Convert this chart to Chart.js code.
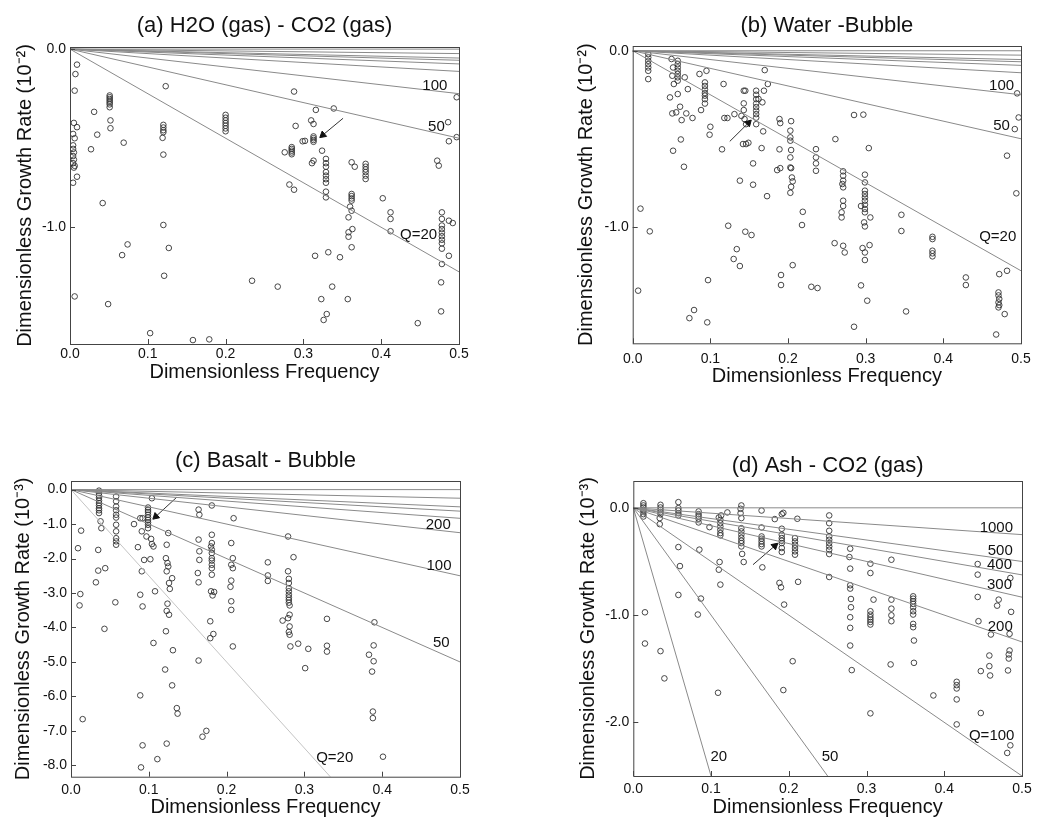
<!DOCTYPE html>
<html>
<head>
<meta charset="utf-8">
<script src="https://cdn.jsdelivr.net/npm/chart.js@4.4.1/dist/chart.umd.min.js"></script>
<style>
  body { margin: 0; background: #fff; }
  canvas { position: absolute; }
</style>
</head>
<body>
<canvas id="pa" width="520" height="410" style="left:0;top:0"></canvas>
<canvas id="pb" width="520" height="410" style="left:520px;top:0"></canvas>
<canvas id="pc" width="520" height="409" style="left:0;top:410px"></canvas>
<canvas id="pd" width="520" height="409" style="left:520px;top:410px"></canvas>
<script>
// tick values
const freqTicks = [0, 0.1, 0.2, 0.3, 0.4, 0.5];
const abRateTicks = [0, -1];
const cRateTicks = [0, -1, -2, -3, -4, -5, -6, -7, -8];
const dRateTicks = [0, -1, -2];

// Q reference lines: growth rate read at frequency 0.5 (plus Q = infinity at 0)
const abQEnds = [-1.25, -0.5, -0.25, -0.125, -0.083, -0.0625, -0.05, -0.025, 0];
const cdQEnds = [-12.5, -5.0, -2.5, -1.25, -0.833, -0.625, -0.5, -0.25, 0];

// measured points [frequency, growth rate]
const aPoints = [
  [0.009,-0.087],[0.007,-0.14],[0.006,-0.233],[0.005,-0.414],[0.009,-0.438],[0.004,-0.476],[0.006,-0.5],
  [0.004,-0.54],[0.004,-0.56],[0.005,-0.58],[0.004,-0.6],[0.005,-0.62],[0.004,-0.64],[0.006,-0.655],
  [0.005,-0.665],[0.009,-0.716],[0.004,-0.75],[0.006,-1.388],
  [0.031,-0.352],[0.035,-0.48],[0.027,-0.562],[0.042,-0.864],[0.049,-1.431],
  [0.051,-0.26],[0.051,-0.27],[0.051,-0.28],[0.051,-0.29],[0.051,-0.3],[0.051,-0.31],[0.051,-0.326],
  [0.052,-0.4],[0.052,-0.444],
  [0.069,-0.525],[0.074,-1.096],[0.067,-1.156],
  [0.12,-0.425],[0.12,-0.44],[0.12,-0.455],[0.12,-0.466],[0.119,-0.498],[0.12,-0.592],[0.12,-0.987],
  [0.123,-0.208],[0.127,-1.116],[0.121,-1.272],
  [0.103,-1.594],[0.158,-1.633],[0.179,-1.629],
  [0.2,-0.369],[0.2,-0.385],[0.2,-0.4],[0.2,-0.415],[0.2,-0.43],[0.2,-0.445],[0.2,-0.461],
  [0.234,-1.3],
  [0.288,-0.238],[0.316,-0.341],[0.339,-0.333],[0.29,-0.431],[0.31,-0.4],[0.313,-0.42],[0.299,-0.517],[0.302,-0.515],
  [0.313,-0.49],[0.313,-0.5],[0.313,-0.51],[0.313,-0.52],
  [0.285,-0.55],[0.285,-0.56],[0.285,-0.57],[0.285,-0.58],[0.285,-0.59],
  [0.276,-0.579],[0.324,-0.57],[0.313,-0.626],[0.311,-0.64],
  [0.329,-0.616],[0.329,-0.64],[0.329,-0.66],[0.329,-0.69],[0.329,-0.71],[0.329,-0.73],[0.329,-0.75],[0.329,-0.8],[0.329,-0.832],
  [0.362,-0.635],[0.366,-0.66],
  [0.38,-0.644],[0.38,-0.66],[0.38,-0.675],[0.38,-0.69],[0.38,-0.71],[0.38,-0.729],
  [0.282,-0.76],[0.288,-0.789],
  [0.362,-0.813],[0.362,-0.825],[0.362,-0.838],[0.362,-0.85],[0.36,-0.884],[0.362,-0.907],[0.358,-0.944],
  [0.363,-1.01],[0.358,-1.028],[0.358,-1.053],[0.362,-1.112],
  [0.402,-0.837],[0.412,-0.916],[0.412,-0.953],[0.412,-1.022],
  [0.315,-1.16],[0.332,-1.14],[0.347,-1.168],[0.267,-1.333],[0.337,-1.333],[0.323,-1.403],[0.357,-1.403],
  [0.33,-1.487],[0.326,-1.52],[0.447,-1.538],
  [0.472,-0.626],[0.474,-0.654],
  [0.478,-0.916],[0.478,-0.953],[0.478,-0.99],[0.478,-1.01],[0.478,-1.03],[0.478,-1.05],[0.478,-1.07],[0.478,-1.09],[0.478,-1.12],
  [0.487,-0.963],[0.492,-0.976],[0.487,-1.16],[0.478,-1.206],[0.477,-1.309],[0.477,-1.472],
  [0.487,-0.517],[0.486,-0.41],[0.497,-0.27],[0.497,-0.494]
];

const bPoints = [
  [0.02,-0.019],[0.02,-0.038],[0.02,-0.057],[0.02,-0.076],[0.02,-0.095],[0.02,-0.114],[0.02,-0.161],
  [0.05,-0.047],[0.052,-0.095],[0.051,-0.142],[0.053,-0.189],[0.048,-0.265],
  [0.058,-0.057],[0.058,-0.076],[0.058,-0.095],[0.058,-0.114],[0.058,-0.132],[0.058,-0.151],[0.058,-0.17],[0.058,-0.246],
  [0.067,-0.151],[0.071,-0.218],[0.061,-0.318],[0.051,-0.356],[0.056,-0.35],[0.063,-0.394],[0.069,-0.356],
  [0.077,-0.382],[0.062,-0.504],[0.052,-0.568],[0.066,-0.659],
  [0.086,-0.132],[0.095,-0.114],
  [0.093,-0.18],[0.093,-0.2],[0.093,-0.22],[0.093,-0.24],[0.093,-0.255],[0.093,-0.275],[0.093,-0.3],
  [0.088,-0.337],[0.1,-0.432],[0.099,-0.477],
  [0.117,-0.189],[0.118,-0.382],[0.122,-0.382],[0.115,-0.56],[0.131,-0.36],
  [0.143,-0.227],[0.145,-0.227],[0.143,-0.299],[0.143,-0.337],[0.14,-0.37],[0.144,-0.388],[0.146,-0.417],
  [0.142,-0.53],[0.146,-0.53],[0.149,-0.523],[0.155,-0.64],[0.138,-0.738],[0.155,-0.761],[0.145,-1.028],[0.153,-1.047],
  [0.159,-0.227],[0.159,-0.25],[0.159,-0.275],[0.159,-0.3],[0.159,-0.32],[0.159,-0.34],[0.159,-0.36],[0.159,-0.38],[0.159,-0.417],
  [0.162,-0.274],[0.167,-0.293],[0.169,-0.227],[0.174,-0.189],[0.17,-0.11],[0.168,-0.458],[0.166,-0.553],[0.173,-0.826],
  [0.123,-0.994],[0.134,-1.127],[0.13,-1.183],[0.138,-1.223],
  [0.097,-1.303],[0.079,-1.473],[0.073,-1.519],[0.096,-1.543],
  [0.01,-0.897],[0.022,-1.026],[0.007,-1.363],
  [0.189,-0.388],[0.19,-0.411],[0.204,-0.4],[0.203,-0.454],[0.203,-0.492],[0.203,-0.511],[0.204,-0.564],
  [0.203,-0.606],[0.203,-0.663],[0.204,-0.667],[0.205,-0.72],[0.206,-0.742],[0.204,-0.773],[0.203,-0.807],
  [0.189,-0.56],[0.186,-0.678],[0.19,-0.667],[0.219,-0.915],[0.218,-0.99],[0.206,-1.218],[0.191,-1.274],
  [0.191,-1.331],[0.23,-1.341],[0.238,-1.348],
  [0.236,-0.559],[0.236,-0.606],[0.236,-0.64],[0.236,-0.682],
  [0.285,-0.365],[0.297,-0.363],[0.261,-0.502],[0.304,-0.553],
  [0.271,-0.685],[0.271,-0.71],[0.271,-0.738],[0.27,-0.757],[0.271,-0.776],[0.271,-0.852],[0.271,-0.882],
  [0.269,-0.918],[0.269,-0.947],[0.26,-1.093],[0.271,-1.108],[0.273,-1.146],
  [0.299,-0.704],[0.299,-0.748],[0.299,-0.795],[0.299,-0.814],[0.299,-0.833],[0.299,-0.852],[0.299,-0.875],
  [0.299,-0.899],[0.299,-0.918],[0.298,-0.975],[0.299,-0.998],[0.294,-0.882],[0.306,-0.947],
  [0.296,-1.121],[0.299,-1.146],[0.299,-1.189],[0.305,-1.104],[0.294,-1.333],[0.302,-1.42],[0.285,-1.568],
  [0.346,-0.932],[0.346,-1.024],[0.352,-1.481],
  [0.386,-1.057],[0.386,-1.07],[0.386,-1.136],[0.386,-1.151],[0.386,-1.168],
  [0.429,-1.288],[0.429,-1.331],
  [0.472,-1.269],[0.482,-1.25],[0.471,-1.373],[0.471,-1.39],[0.472,-1.41],[0.471,-1.43],[0.472,-1.445],
  [0.471,-1.458],[0.479,-1.496],[0.468,-1.612],
  [0.495,-0.242],[0.497,-0.379],[0.492,-0.445],[0.482,-0.596],[0.494,-0.81]
];

const cPoints = [
  [0.036,-0.03],[0.036,-0.1],[0.036,-0.17],[0.036,-0.24],[0.036,-0.32],[0.036,-0.39],[0.036,-0.46],
  [0.036,-0.54],[0.036,-0.6],[0.036,-0.68],[0.038,-0.92],[0.039,-1.12],[0.035,-1.75],[0.035,-2.35],
  [0.032,-2.69],[0.044,-2.28],[0.043,-4.04],
  [0.013,-1.19],[0.009,-1.7],[0.012,-3.03],[0.011,-3.36],[0.015,-6.66],
  [0.058,-0.2],[0.058,-0.34],[0.058,-0.49],[0.058,-0.6],[0.058,-0.73],[0.058,-0.81],[0.058,-1.02],
  [0.058,-1.21],[0.058,-1.41],[0.058,-1.5],[0.058,-1.6],[0.057,-3.27],
  [0.099,-0.52],[0.099,-0.59],[0.099,-0.65],[0.099,-0.73],[0.099,-0.81],[0.099,-0.88],[0.099,-0.95],
  [0.099,-1.02],[0.099,-1.12],[0.097,-1.36],[0.089,-0.83],[0.092,-0.83],[0.081,-1.0],[0.086,-1.67],
  [0.104,-0.25],[0.091,-1.21],[0.103,-1.43],[0.104,-1.58],[0.106,-1.65],[0.094,-2.04],[0.102,-2.02],
  [0.091,-2.37],[0.089,-3.05],[0.092,-3.39],[0.106,-4.45],[0.108,-2.95],[0.089,-5.97],[0.092,-7.42],
  [0.09,-8.06],[0.111,-7.82],
  [0.125,-1.26],[0.123,-1.6],[0.122,-1.99],[0.124,-2.13],[0.125,-2.23],[0.123,-2.37],[0.13,-2.57],
  [0.126,-2.71],[0.127,-2.88],[0.124,-3.31],[0.123,-3.52],[0.126,-3.63],[0.122,-4.11],[0.131,-4.66],
  [0.121,-5.22],[0.13,-5.68],[0.136,-6.34],[0.137,-6.5],[0.123,-7.37],
  [0.164,-4.96],[0.169,-7.17],[0.174,-7.0],
  [0.164,-0.58],[0.165,-0.73],[0.164,-1.45],[0.165,-1.79],[0.165,-2.04],[0.163,-2.42],[0.164,-2.69],
  [0.181,-0.46],[0.181,-1.31],[0.181,-1.55],[0.18,-1.65],[0.181,-1.74],[0.181,-1.84],[0.181,-1.99],
  [0.181,-2.06],[0.181,-2.18],[0.181,-2.28],[0.181,-2.47],[0.18,-2.95],[0.184,-2.97],[0.182,-3.07],
  [0.179,-3.82],[0.183,-4.19],[0.179,-4.31],
  [0.209,-0.83],
  [0.206,-1.55],[0.208,-1.99],[0.206,-2.18],[0.208,-2.28],[0.206,-2.64],[0.205,-2.82],[0.206,-3.24],
  [0.206,-3.49],[0.208,-4.55],
  [0.253,-2.11],[0.253,-2.49],[0.253,-2.65],[0.279,-1.36],[0.286,-1.96],
  [0.279,-2.37],[0.28,-2.59],[0.28,-2.71],[0.28,-2.86],[0.28,-2.95],[0.28,-3.05],[0.28,-3.13],[0.28,-3.2],
  [0.28,-3.28],[0.281,-3.36],[0.281,-3.63],[0.279,-3.73],[0.272,-3.8],[0.281,-3.97],[0.28,-4.13],
  [0.281,-4.21],[0.282,-4.55],[0.292,-4.47],[0.305,-4.62],[0.329,-3.75],[0.329,-4.53],[0.329,-4.7],[0.301,-5.18],
  [0.39,-3.85],[0.389,-4.52],[0.383,-4.79],[0.389,-4.98],[0.387,-5.28],[0.388,-6.44],[0.388,-6.63],[0.401,-7.75]
];

const dPoints = [
  [0.013,0.043],[0.013,0.022],[0.013,0.003],[0.013,-0.019],[0.013,-0.034],[0.013,-0.059],[0.013,-0.081],
  [0.015,-0.974],[0.015,-1.265],
  [0.035,0.028],[0.035,0.003],[0.035,-0.019],[0.035,-0.04],[0.035,-0.059],[0.034,-0.096],[0.034,-0.152],
  [0.035,-1.336],[0.04,-1.59],
  [0.058,0.053],[0.058,-0.003],[0.058,-0.025],[0.058,-0.05],[0.058,-0.071],[0.058,-0.366],[0.06,-0.543],[0.058,-0.812],
  [0.084,-0.034],[0.084,-0.059],[0.084,-0.081],[0.084,-0.102],[0.084,-0.136],[0.085,-0.39],[0.087,-0.846],[0.083,-0.995],
  [0.098,-0.18],[0.121,-0.043],[0.11,-0.09],[0.113,-0.071],
  [0.112,-0.112],[0.112,-0.143],[0.112,-0.174],[0.112,-0.205],[0.112,-0.236],[0.112,-0.257],[0.111,-0.505],
  [0.11,-0.577],[0.112,-0.716],[0.109,-1.724],
  [0.139,0.022],[0.138,-0.009],[0.138,-0.05],[0.139,-0.096],[0.139,-0.19],[0.139,-0.22],[0.139,-0.25],
  [0.139,-0.28],[0.139,-0.307],[0.139,-0.329],[0.139,-0.36],[0.14,-0.43],[0.142,-0.505],
  [0.165,-0.025],[0.165,-0.183],[0.165,-0.267],[0.165,-0.288],[0.165,-0.313],[0.165,-0.338],[0.165,-0.36],
  [0.166,-0.555],[0.182,-0.105],
  [0.193,-0.047],[0.191,-0.059],[0.191,-0.195],[0.191,-0.251],[0.191,-0.282],[0.191,-0.307],[0.191,-0.329],
  [0.191,-0.375],[0.191,-0.412],[0.188,-0.7],[0.19,-0.741],[0.194,-0.902],[0.193,-1.699],
  [0.211,-0.102],[0.208,-0.282],[0.208,-0.313],[0.208,-0.344],[0.208,-0.375],[0.208,-0.406],[0.208,-0.437],
  [0.212,-0.69],[0.205,-1.43],
  [0.252,-0.071],[0.252,-0.143],[0.252,-0.214],[0.252,-0.267],[0.252,-0.298],[0.252,-0.329],[0.252,-0.36],
  [0.252,-0.391],[0.252,-0.431],[0.252,-0.645],
  [0.279,-0.381],[0.278,-0.459],[0.279,-0.567],[0.279,-0.722],[0.279,-0.753],[0.28,-0.85],[0.28,-0.927],
  [0.279,-1.02],[0.279,-1.119],[0.279,-1.284],[0.281,-1.513],
  [0.305,-0.521],[0.305,-0.608],[0.305,-0.964],[0.305,-0.995],[0.305,-1.02],[0.305,-1.042],[0.305,-1.064],
  [0.305,-1.088],[0.309,-0.856],[0.305,-1.916],
  [0.332,-0.484],[0.332,-0.856],[0.332,-0.94],[0.332,-1.002],[0.332,-1.057],[0.331,-1.46],
  [0.36,-0.825],[0.36,-0.847],[0.36,-0.871],[0.36,-0.896],[0.36,-0.927],[0.36,-0.964],[0.36,-0.995],
  [0.36,-1.082],[0.36,-1.113],[0.361,-1.237],[0.361,-1.445],
  [0.386,-1.749],
  [0.416,-1.622],[0.416,-1.653],[0.416,-1.684],[0.416,-1.786],[0.416,-2.019],
  [0.443,-0.524],[0.443,-0.623],[0.443,-0.831],[0.444,-1.057],[0.447,-1.522],[0.447,-1.913],
  [0.46,-1.181],[0.458,-1.377],[0.458,-1.476],[0.459,-1.563],[0.47,-0.856],[0.468,-0.912],
  [0.485,-0.654],[0.486,-0.97],[0.484,-1.175],[0.484,-1.33],[0.483,-1.367],[0.483,-1.405],[0.482,-1.516],
  [0.485,-2.214],[0.481,-2.285]
];

// Q labels [text, frequency, growth rate]
const aLabels = [['100', 0.469, -0.206], ['50', 0.471, -0.436], ['Q=20', 0.448, -1.043]];
const bLabels = [['100', 0.475, -0.199], ['50', 0.475, -0.426], ['Q=20', 0.47, -1.057]];
const cLabels = [['200', 0.472, -1.02], ['100', 0.473, -2.2], ['50', 0.476, -4.45], ['Q=20', 0.339, -7.77]];
const dLabels = [['1000', 0.467, -0.183], ['500', 0.472, -0.4], ['400', 0.471, -0.536], ['300', 0.471, -0.716],
  ['200', 0.472, -1.113], ['Q=100', 0.461, -2.127], ['20', 0.11, -2.322], ['50', 0.253, -2.322]];

// arrows [from, to]
const aArrow = [[0.351, -0.388], [0.325, -0.482]];
const bArrow = [[0.125, -0.515], [0.149, -0.41]];
const cArrow = [[0.136, -0.22], [0.109, -0.78]];
const dArrow = [[0.154, -0.53], [0.182, -0.355]];

const FONT = '"Liberation Sans", Arial, Helvetica, sans-serif';
Chart.defaults.font.family = FONT;
Chart.defaults.color = '#111';

const framePlugin = {
  id: 'frame',
  afterDatasetsDraw(chart, args, opts) {
    const { ctx, chartArea: a, scales: { x, y } } = chart;
    ctx.save();
    ctx.strokeStyle = '#444';
    ctx.lineWidth = 1;
    ctx.strokeRect(a.left + 0.5, a.top + 0.5, a.right - a.left, a.bottom - a.top);
    ctx.beginPath();
    x.ticks.forEach(t => {
      const px = Math.round(x.getPixelForValue(t.value)) + 0.5;
      ctx.moveTo(px, a.bottom); ctx.lineTo(px, a.bottom - 5);
    });
    y.ticks.forEach(t => {
      const py = Math.round(y.getPixelForValue(t.value)) + 0.5;
      ctx.moveTo(a.left, py); ctx.lineTo(a.left + 5, py);
    });
    ctx.stroke();
    ctx.font = '15px ' + FONT;
    ctx.fillStyle = '#111';
    ctx.textAlign = 'center';
    ctx.textBaseline = 'middle';
    opts.labels.forEach(([txt, f, g]) => {
      ctx.fillText(txt, x.getPixelForValue(f), y.getPixelForValue(g));
    });
    ctx.restore();
  }
};

function makePanel(id, p) {
  const datasets = [];
  p.ends.forEach((end, i) => {
    datasets.push({
      data: [{ x: 0, y: 0 }, { x: 0.5, y: end }],
      showLine: true, pointRadius: 0, borderWidth: 1,
      borderColor: (p.lightFirst && i === 0) ? '#c4c4c4' : '#8a8a8a'
    });
  });
  datasets.push({
    data: p.arrow.map(([f, g]) => ({ x: f, y: g })),
    showLine: true, borderColor: '#333', borderWidth: 1,
    pointRadius: [0, 4], pointStyle: 'triangle', rotation: [0, p.arrowRot],
    pointBackgroundColor: '#111', pointBorderColor: '#111'
  });
  datasets.push({
    data: p.points.map(([f, g]) => ({ x: f, y: g })),
    pointRadius: 2.8, borderWidth: 0.9, borderColor: '#333', backgroundColor: 'rgba(0,0,0,0)'
  });

  new Chart(document.getElementById(id), {
    type: 'scatter',
    data: { datasets },
    options: {
      responsive: false,
      animation: false,
      devicePixelRatio: 1,
      layout: { padding: { left: p.padLeft, right: p.padRight, top: 0, bottom: 0 } },
      plugins: {
        legend: { display: false },
        tooltip: { enabled: false },
        title: {
          display: true, text: p.title, fullSize: false,
          font: { size: 22, weight: 'normal' }, color: '#111',
          padding: { top: p.titleTop, bottom: p.titleBottom }
        },
        frame: { labels: p.labels }
      },
      scales: {
        x: {
          type: 'linear', min: 0, max: 0.5,
          grid: { display: false, drawTicks: false }, border: { display: false },
          afterBuildTicks: s => { s.ticks = freqTicks.map(v => ({ value: v })); },
          afterFit: s => { s.height = p.xHeight; },
          ticks: { font: { size: 14 }, color: '#111', padding: p.xTickPad, maxRotation: 0,
                   callback: v => v.toFixed(1) },
          title: { display: true, text: 'Dimensionless Frequency', font: { size: 20 }, color: '#111',
                   padding: { top: 0, bottom: p.xTitleBottom } }
        },
        y: {
          type: 'linear', min: p.yMin, max: p.yMax,
          grid: { display: false, drawTicks: false }, border: { display: false },
          afterBuildTicks: s => { s.ticks = p.yTicks.map(v => ({ value: v })); },
          afterFit: s => { s.width = p.yWidth; },
          ticks: { font: { size: 14 }, color: '#111', padding: 4, callback: v => v.toFixed(1) },
          title: { display: true, text: p.yTitle, font: { size: 20 }, color: '#111', padding: 0 }
        }
      }
    },
    plugins: [framePlugin]
  });
}

makePanel('pa', {
  title: '(a) H2O (gas) - CO2 (gas)', yTitle: 'Dimensionless Growth Rate (10\u207B\u00B2)',
  points: aPoints, ends: abQEnds, labels: aLabels, arrow: aArrow, arrowRot: 230,
  yTicks: abRateTicks, yMin: -1.655, yMax: 0.012,
  padLeft: 13, yWidth: 57, padRight: 61, titleTop: 12.5, titleBottom: 8.1,
  xHeight: 66, xTickPad: 2, xTitleBottom: 26
});
makePanel('pb', {
  title: '(b) Water -Bubble', yTitle: 'Dimensionless Growth Rate (10\u207B\u00B2)',
  points: bPoints, ends: abQEnds, labels: bLabels, arrow: bArrow, arrowRot: 45,
  yTicks: abRateTicks, yMin: -1.662, yMax: 0.027,
  padLeft: 54.7, yWidth: 58, padRight: 19, titleTop: 12.5, titleBottom: 7.1,
  xHeight: 66.7, xTickPad: 7, xTitleBottom: 22
});
makePanel('pc', {
  title: '(c) Basalt - Bubble', yTitle: 'Dimensionless Growth Rate (10\u207B\u00B3)',
  points: cPoints, ends: cdQEnds, labels: cLabels, arrow: cArrow, arrowRot: 228, lightFirst: true,
  yTicks: cRateTicks, yMin: -8.33, yMax: 0.25,
  padLeft: 11.3, yWidth: 59.7, padRight: 60, titleTop: 37.5, titleBottom: 7.1,
  xHeight: 42.3, xTickPad: 5, xTitleBottom: 0
});
makePanel('pd', {
  title: '(d) Ash - CO2 (gas)', yTitle: 'Dimensionless Growth Rate (10\u207B\u00B3)',
  points: dPoints, ends: cdQEnds, labels: dLabels, arrow: dArrow, arrowRot: 49,
  yTicks: dRateTicks, yMin: -2.5, yMax: 0.25,
  padLeft: 56.3, yWidth: 57, padRight: 18, titleTop: 43.1, titleBottom: 1.5,
  xHeight: 43, xTickPad: 5, xTitleBottom: 0
});
</script>
</body>
</html>
